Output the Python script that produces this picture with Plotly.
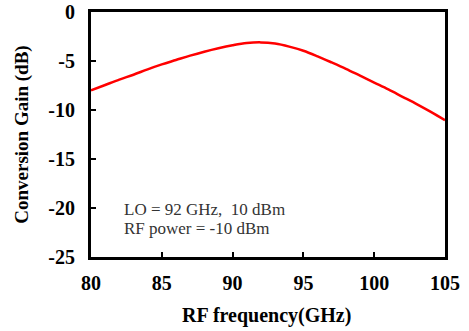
import plotly.graph_objects as go

freq_ghz = [80, 81, 82, 83, 84, 85, 86, 87, 88, 89, 90, 91, 92, 93, 94, 95, 96, 97, 98, 99, 100, 101, 102, 103, 104, 105]
gain_db = [-8.0, -7.45, -6.9, -6.4, -5.85, -5.35, -4.9, -4.45, -4.05, -3.7, -3.4, -3.17, -3.1, -3.22, -3.53, -3.95, -4.52, -5.15, -5.8, -6.5, -7.2, -7.9, -8.65, -9.4, -10.2, -11.05]

x_ticks = [80, 85, 90, 95, 100, 105]
x_ticktext = ["80", "85", "90", "95", "100", "105"]
y_ticks = [0, -5, -10, -15, -20, -25]
y_ticktext = ["0", "-5", "-10", "-15", "-20", "-25"]

x_title = "<b>RF frequency(GHz)</b>"
y_title = "<b>Conversion Gain (dB)</b>"
note_lines = ["LO = 92 GHz,&nbsp; 10 dBm", "RF power = -10 dBm"]

fig = go.Figure()
fig.add_trace(go.Scatter(
    x=freq_ghz, y=gain_db, mode="lines",
    line=dict(color="#ff0000", width=2.5, shape="spline"),
    showlegend=False,
))

serif = "Liberation Serif, Times New Roman, serif"

fig.update_layout(
    width=469, height=331,
    margin=dict(l=91, r=24, t=12, b=74),
    paper_bgcolor="white", plot_bgcolor="white",
    font=dict(family=serif, color="black"),
    xaxis=dict(
        range=[80, 105], tickvals=x_ticks, ticktext=x_ticktext,
        ticks="inside", ticklen=5, tickwidth=2, tickcolor="black",
        showline=True, linewidth=3, linecolor="black", mirror=True,
        showgrid=False, zeroline=False, automargin=False,
        tickfont=dict(family=serif, size=20, color="black", weight="bold"),
        ticklabelstandoff=6,
    ),
    yaxis=dict(
        range=[-25, 0], tickvals=y_ticks, ticktext=y_ticktext,
        ticks="inside", ticklen=5, tickwidth=2, tickcolor="black",
        showline=True, linewidth=3, linecolor="black", mirror=True,
        showgrid=False, zeroline=False, automargin=False,
        tickfont=dict(family=serif, size=20, color="black", weight="bold"),
        ticklabelstandoff=9,
    ),
    annotations=[
        dict(x=0.497, y=-0.238, xref="paper", yref="paper", xanchor="center", yanchor="middle",
             text=x_title, showarrow=False,
             font=dict(family=serif, size=20, color="black")),
        dict(x=-0.197, y=0.50, xref="paper", yref="paper", xanchor="center", yanchor="middle",
             text=y_title, showarrow=False, textangle=-90,
             font=dict(family=serif, size=19, color="black")),
        dict(x=0.0876, y=0.193, xref="paper", yref="paper", xanchor="left", yanchor="middle",
             text=note_lines[0], showarrow=False,
             font=dict(family=serif, size=17, color="#333333")),
        dict(x=0.0876, y=0.115, xref="paper", yref="paper", xanchor="left", yanchor="middle",
             text=note_lines[1], showarrow=False,
             font=dict(family=serif, size=17, color="#333333")),
    ],
)

fig.write_html("out.html", config={"displayModeBar": False},
               post_script="document.body.style.margin='0';document.body.style.overflow='hidden';")
